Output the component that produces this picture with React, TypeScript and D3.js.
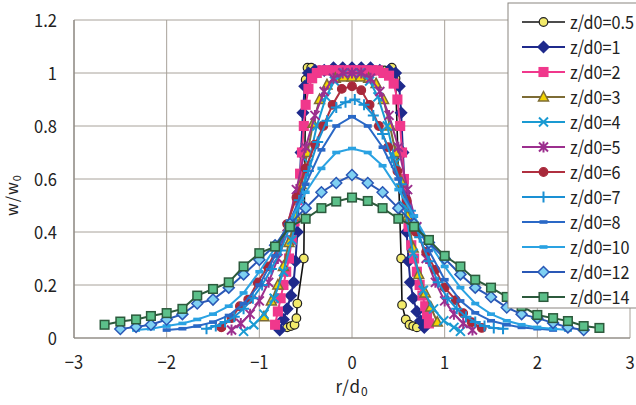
import React from "react";
import * as d3 from "d3";

// ---- data (r/d0, w/w0) ----
const z05: [number, number][] = [
  [-0.70, 0.04], [-0.66, 0.045], [-0.62, 0.05], [-0.60, 0.075], [-0.59, 0.13], [-0.52, 0.30], [-0.50, 0.975], [-0.48, 1.02], [-0.44, 1.02],
  [-0.35, 1.01], [-0.25, 1.01], [-0.15, 1.01], [-0.05, 1.01], [0.05, 1.01], [0.15, 1.01], [0.25, 1.01], [0.35, 1.01],
  [0.43, 1.02], [0.47, 0.98], [0.53, 0.30], [0.54, 0.125], [0.58, 0.07], [0.62, 0.05], [0.66, 0.045], [0.70, 0.04],
];
const z1: [number, number][] = [
  [-0.78, 0.03], [-0.74, 0.07], [-0.70, 0.11], [-0.66, 0.16], [-0.63, 0.21], [-0.61, 0.29], [-0.59, 0.40], [-0.57, 0.55], [-0.55, 0.70],
  [-0.53, 0.85], [-0.51, 0.95], [-0.47, 1.0], [-0.4, 1.01], [-0.3, 1.01], [-0.2, 1.02], [-0.1, 1.02], [0, 1.02], [0.1, 1.02], [0.2, 1.02],
  [0.3, 1.01], [0.4, 1.01], [0.47, 1.0], [0.51, 0.95], [0.53, 0.85], [0.55, 0.70], [0.57, 0.55], [0.59, 0.40], [0.61, 0.29], [0.63, 0.21],
  [0.66, 0.15], [0.70, 0.10], [0.74, 0.065], [0.78, 0.04],
];
const z2: [number, number][] = [
  [-0.83, 0.05], [-0.80, 0.10], [-0.77, 0.15], [-0.74, 0.20], [-0.71, 0.25], [-0.68, 0.30], [-0.65, 0.37], [-0.62, 0.44], [-0.59, 0.52],
  [-0.56, 0.62], [-0.54, 0.70], [-0.52, 0.80], [-0.50, 0.88], [-0.47, 0.94], [-0.43, 0.98], [-0.38, 1.0], [-0.32, 1.01], [-0.26, 1.01],
  [-0.2, 1.01], [-0.14, 1.01], [-0.08, 1.01], [-0.02, 1.01], [0.04, 1.01], [0.1, 1.01], [0.16, 1.01], [0.22, 1.01], [0.28, 1.01],
  [0.34, 1.0], [0.4, 0.99], [0.45, 0.96], [0.49, 0.9], [0.52, 0.8], [0.54, 0.7], [0.56, 0.6], [0.59, 0.5], [0.61, 0.42], [0.64, 0.35],
  [0.67, 0.30], [0.70, 0.25], [0.73, 0.20], [0.76, 0.16], [0.79, 0.12], [0.81, 0.09], [0.83, 0.055],
];
const z3: [number, number][] = [
  [-0.95, 0.08], [-0.87, 0.14], [-0.80, 0.20], [-0.74, 0.27], [-0.68, 0.36], [-0.61, 0.46], [-0.55, 0.58], [-0.48, 0.70], [-0.42, 0.81],
  [-0.35, 0.90], [-0.27, 0.955], [-0.18, 0.98], [-0.09, 0.985], [0, 0.985], [0.09, 0.985], [0.18, 0.98], [0.26, 0.96], [0.34, 0.90],
  [0.41, 0.80], [0.47, 0.70], [0.54, 0.585], [0.60, 0.46], [0.66, 0.34], [0.72, 0.24], [0.79, 0.17], [0.85, 0.117], [0.92, 0.06],
];
const z4: [number, number][] = [
  [-1.17, 0.025], [-1.06, 0.05], [-0.95, 0.09], [-0.84, 0.15], [-0.74, 0.25], [-0.65, 0.37], [-0.56, 0.52], [-0.47, 0.66], [-0.38, 0.80],
  [-0.28, 0.91], [-0.19, 0.97], [-0.09, 1.0], [0, 1.0], [0.09, 1.0], [0.19, 0.97], [0.28, 0.91], [0.38, 0.80], [0.47, 0.66], [0.56, 0.50],
  [0.66, 0.32], [0.77, 0.18], [0.88, 0.11], [0.99, 0.065], [1.1, 0.04], [1.17, 0.025],
];
const z5: [number, number][] = [
  [-1.30, 0.03], [-1.2, 0.055], [-1.1, 0.09], [-1.0, 0.14], [-0.9, 0.21], [-0.8, 0.30], [-0.7, 0.42], [-0.6, 0.56], [-0.5, 0.72],
  [-0.4, 0.84], [-0.3, 0.93], [-0.2, 0.98], [-0.1, 1.0], [0, 1.0], [0.1, 1.0], [0.2, 0.98], [0.3, 0.93], [0.4, 0.84], [0.5, 0.72],
  [0.6, 0.56], [0.7, 0.42], [0.8, 0.30], [0.9, 0.21], [1.0, 0.14], [1.1, 0.09], [1.2, 0.055], [1.3, 0.03],
];
const z6: [number, number][] = [
  [-1.41, 0.04], [-1.3, 0.075], [-1.21, 0.12], [-1.12, 0.145], [-1.02, 0.21], [-0.91, 0.27], [-0.80, 0.34], [-0.70, 0.43], [-0.60, 0.53],
  [-0.50, 0.64], [-0.40, 0.73], [-0.31, 0.80], [-0.21, 0.88], [-0.11, 0.94], [0, 0.95], [0.1, 0.935], [0.19, 0.88], [0.29, 0.80],
  [0.39, 0.72], [0.49, 0.63], [0.59, 0.52], [0.69, 0.40], [0.8, 0.325], [0.9, 0.257], [1.0, 0.19], [1.12, 0.143], [1.2, 0.094],
  [1.29, 0.06], [1.4, 0.038],
];
const z7: [number, number][] = [
  [-1.57, 0.035], [-1.47, 0.045], [-1.37, 0.06], [-1.27, 0.08], [-1.17, 0.11], [-1.07, 0.15], [-0.97, 0.2], [-0.87, 0.26], [-0.77, 0.33],
  [-0.67, 0.42], [-0.57, 0.52], [-0.47, 0.63], [-0.37, 0.74], [-0.27, 0.82], [-0.17, 0.87], [-0.07, 0.89], [0.03, 0.9], [0.13, 0.88],
  [0.23, 0.84], [0.33, 0.77], [0.43, 0.68], [0.53, 0.58], [0.63, 0.48], [0.73, 0.38], [0.83, 0.29], [0.93, 0.21], [1.03, 0.15],
  [1.13, 0.11], [1.23, 0.08], [1.33, 0.06], [1.43, 0.045], [1.53, 0.038], [1.63, 0.035],
];
const z8: [number, number][] = [
  [-2.0, 0.03], [-1.83, 0.035], [-1.67, 0.045], [-1.5, 0.06], [-1.33, 0.085], [-1.17, 0.13], [-1.0, 0.2], [-0.83, 0.31], [-0.67, 0.44],
  [-0.5, 0.58], [-0.33, 0.71], [-0.17, 0.80], [0, 0.835], [0.17, 0.80], [0.33, 0.72], [0.5, 0.60], [0.67, 0.46], [0.83, 0.33],
  [1.0, 0.22], [1.17, 0.14], [1.33, 0.095], [1.5, 0.065], [1.67, 0.05], [1.83, 0.04], [2.0, 0.035], [2.17, 0.03],
];
const z10: [number, number][] = [
  [-2.33, 0.03], [-2.17, 0.035], [-2.0, 0.045], [-1.83, 0.055], [-1.67, 0.07], [-1.5, 0.09], [-1.33, 0.12], [-1.17, 0.17], [-1.0, 0.25],
  [-0.83, 0.34], [-0.67, 0.44], [-0.5, 0.55], [-0.33, 0.64], [-0.17, 0.70], [0, 0.715], [0.17, 0.70], [0.33, 0.65], [0.5, 0.56],
  [0.67, 0.46], [0.83, 0.36], [1.0, 0.27], [1.17, 0.19], [1.33, 0.13], [1.5, 0.09], [1.67, 0.065], [1.83, 0.05], [2.0, 0.04],
  [2.17, 0.035], [2.33, 0.03],
];
const z12: [number, number][] = [
  [-2.5, 0.034], [-2.33, 0.042], [-2.17, 0.05], [-2.0, 0.07], [-1.83, 0.09], [-1.67, 0.13], [-1.5, 0.145], [-1.33, 0.19], [-1.17, 0.24],
  [-1.0, 0.295], [-0.83, 0.35], [-0.67, 0.43], [-0.5, 0.49], [-0.33, 0.55], [-0.17, 0.585], [0, 0.615], [0.17, 0.585], [0.33, 0.55],
  [0.5, 0.49], [0.67, 0.43], [0.83, 0.36], [1.0, 0.30], [1.17, 0.24], [1.33, 0.19], [1.5, 0.155], [1.67, 0.115], [1.83, 0.09],
  [2.0, 0.075], [2.17, 0.057], [2.33, 0.04], [2.5, 0.03],
];
const z14: [number, number][] = [
  [-2.67, 0.05], [-2.5, 0.062], [-2.33, 0.07], [-2.17, 0.083], [-2.0, 0.094], [-1.83, 0.11], [-1.67, 0.16], [-1.5, 0.185], [-1.33, 0.21],
  [-1.17, 0.27], [-1.0, 0.32], [-0.83, 0.345], [-0.67, 0.42], [-0.5, 0.45], [-0.33, 0.49], [-0.17, 0.515], [0, 0.53], [0.17, 0.517],
  [0.33, 0.49], [0.5, 0.45], [0.67, 0.42], [0.83, 0.37], [1.0, 0.31], [1.17, 0.27], [1.33, 0.22], [1.5, 0.19], [1.67, 0.155],
  [1.83, 0.12], [2.0, 0.087], [2.17, 0.075], [2.33, 0.064], [2.5, 0.045], [2.67, 0.038],
];

const seriesNames = ["z/d0=0.5", "z/d0=1", "z/d0=2", "z/d0=3", "z/d0=4", "z/d0=5", "z/d0=6", "z/d0=7", "z/d0=8", "z/d0=10", "z/d0=12", "z/d0=14"];
const seriesData = [z05, z1, z2, z3, z4, z5, z6, z7, z8, z10, z12, z14];
const xTicks = [-3, -2, -1, 0, 1, 2, 3];
const yTicks = [0, 0.2, 0.4, 0.6, 0.8, 1, 1.2];

type Style = { line: string; marker: string; fill: string; stroke: string; lw: number };
const styles: Style[] = [
  { line: "#111", marker: "circle", fill: "#f2ea6a", stroke: "#222", lw: 1.6 },
  { line: "#1f2a8c", marker: "diamond", fill: "#1f2a8c", stroke: "#1f2a8c", lw: 2 },
  { line: "#f0388c", marker: "square", fill: "#f0388c", stroke: "#f0388c", lw: 2 },
  { line: "#7d6c35", marker: "triangle", fill: "#f3d400", stroke: "#7d6c35", lw: 2 },
  { line: "#1a9ad2", marker: "x", fill: "none", stroke: "#1a9ad2", lw: 2 },
  { line: "#9c2f8e", marker: "star", fill: "none", stroke: "#9c2f8e", lw: 2 },
  { line: "#b03040", marker: "circle", fill: "#a8283a", stroke: "#a8283a", lw: 2 },
  { line: "#1a90d4", marker: "plus", fill: "none", stroke: "#1a90d4", lw: 2 },
  { line: "#2a68c6", marker: "dash", fill: "#2a68c6", stroke: "#2a68c6", lw: 2 },
  { line: "#2aa2e2", marker: "dash", fill: "#2aa2e2", stroke: "#2aa2e2", lw: 2 },
  { line: "#2a58b6", marker: "diamond", fill: "#7fd0f2", stroke: "#2a58b6", lw: 2 },
  { line: "#2c5a3c", marker: "square", fill: "#5cc08a", stroke: "#2c5a3c", lw: 2 },
];

const W = 636, H = 405;
const x = d3.scaleLinear().domain([-3, 3]).range([74, 630]);
const y = d3.scaleLinear().domain([0, 1.2]).range([338, 20]);
const FONT = "'Noto Sans CJK JP', 'Noto Sans', sans-serif";

function Marker({ kind, cx, cy, s }: { kind: string; cx: number; cy: number; s: Style }) {
  switch (kind) {
    case "circle":
      return <circle cx={cx} cy={cy} r={4.3} fill={s.fill} stroke={s.stroke} strokeWidth={1.2} />;
    case "diamond":
      return <path d={`M${cx},${cy - 5.5}L${cx + 5.5},${cy}L${cx},${cy + 5.5}L${cx - 5.5},${cy}Z`} fill={s.fill} stroke={s.stroke} strokeWidth={1.5} />;
    case "square":
      return <rect x={cx - 4.3} y={cy - 4.3} width={8.6} height={8.6} fill={s.fill} stroke={s.stroke} strokeWidth={1.5} />;
    case "triangle":
      return <path d={`M${cx},${cy - 5.5}L${cx + 5},${cy + 4}L${cx - 5},${cy + 4}Z`} fill={s.fill} stroke={s.stroke} strokeWidth={1.5} />;
    case "x":
      return <path d={`M${cx - 4.5},${cy - 4.5}L${cx + 4.5},${cy + 4.5}M${cx - 4.5},${cy + 4.5}L${cx + 4.5},${cy - 4.5}`} stroke={s.stroke} strokeWidth={2} />;
    case "star":
      return <path d={`M${cx - 4.5},${cy - 4.5}L${cx + 4.5},${cy + 4.5}M${cx - 4.5},${cy + 4.5}L${cx + 4.5},${cy - 4.5}M${cx},${cy - 5.5}L${cx},${cy + 5.5}`} stroke={s.stroke} strokeWidth={2} />;
    case "plus":
      return <path d={`M${cx - 5.5},${cy}L${cx + 5.5},${cy}M${cx},${cy - 5.5}L${cx},${cy + 5.5}`} stroke={s.stroke} strokeWidth={2} />;
    case "dash":
      return <rect x={cx - 4} y={cy - 1.8} width={8} height={3.6} fill={s.fill} />;
    default:
      return null;
  }
}

export default function App() {
  const line = d3.line<[number, number]>().x((d) => x(d[0])).y((d) => y(d[1]));
  const grid = "#a8a29a";
  return (
    <svg width={W} height={H} style={{ position: "absolute", left: 0, top: 0, background: "#fff" }} fontFamily={FONT}>
      <rect x={0} y={0} width={W} height={H} fill="#fff" />
      {/* grid */}
      {yTicks.map((t) => (
        <line key={"gy" + t} x1={x(-3)} x2={x(3)} y1={y(t)} y2={y(t)} stroke={grid} strokeWidth={1} />
      ))}
      {xTicks.map((t) => (
        <line key={"gx" + t} x1={x(t)} x2={x(t)} y1={y(0)} y2={y(1.2)} stroke={grid} strokeWidth={1} />
      ))}
      <line x1={x(-3)} x2={x(-3)} y1={y(0)} y2={y(1.2)} stroke="#8a8580" strokeWidth={1.2} />
      <line x1={x(-3)} x2={x(3)} y1={y(0)} y2={y(0)} stroke="#8a8580" strokeWidth={1.2} />
      {/* tick labels */}
      {yTicks.map((t) => (
        <text key={"ty" + t} transform={`translate(57,${y(t) + 7}) scale(0.92,1)`} textAnchor="end" fontSize={18} fill="#222">
          {String(t)}
        </text>
      ))}
      {xTicks.map((t) => (
        <text key={"tx" + t} transform={`translate(${x(t)},369) scale(0.92,1)`} textAnchor="middle" fontSize={18} fill="#222">
          {t < 0 ? "\u2212" + Math.abs(t) : String(t)}
        </text>
      ))}
      {/* axis titles */}
      <text x={352} y={393} textAnchor="middle" fontSize={17} letterSpacing={1} fill="#222">
        r/d<tspan fontSize={12} dy={3}>0</tspan>
      </text>
      <text transform="translate(18,195) rotate(-90)" textAnchor="middle" fontSize={16} letterSpacing={1} fill="#222">
        w/w<tspan fontSize={11} dy={3}>0</tspan>
      </text>
      {/* series */}
      {seriesData.map((data, i) => {
        const s = styles[i];
        return (
          <g key={"s" + i}>
            <path d={line(data) || ""} fill="none" stroke={s.line} strokeWidth={s.lw} />
            {data.map((d, j) => (
              <Marker key={j} kind={s.marker} cx={x(d[0])} cy={y(d[1])} s={s} />
            ))}
          </g>
        );
      })}
      {/* legend */}
      <rect x={508} y={3} width={140} height={305} fill="#fff" stroke="#8a8580" strokeWidth={1} />
      {seriesNames.map((n, i) => {
        const s = styles[i];
        const ly = 22 + i * 25;
        return (
          <g key={"l" + i}>
            <line x1={522} x2={565} y1={ly} y2={ly} stroke={s.line} strokeWidth={s.lw} />
            <Marker kind={s.marker} cx={543.5} cy={ly} s={s} />
            <text transform={`translate(570,${ly + 6.5}) scale(0.9,1)`} fontSize={18} fill="#222">
              {n}
            </text>
          </g>
        );
      })}
    </svg>
  );
}
